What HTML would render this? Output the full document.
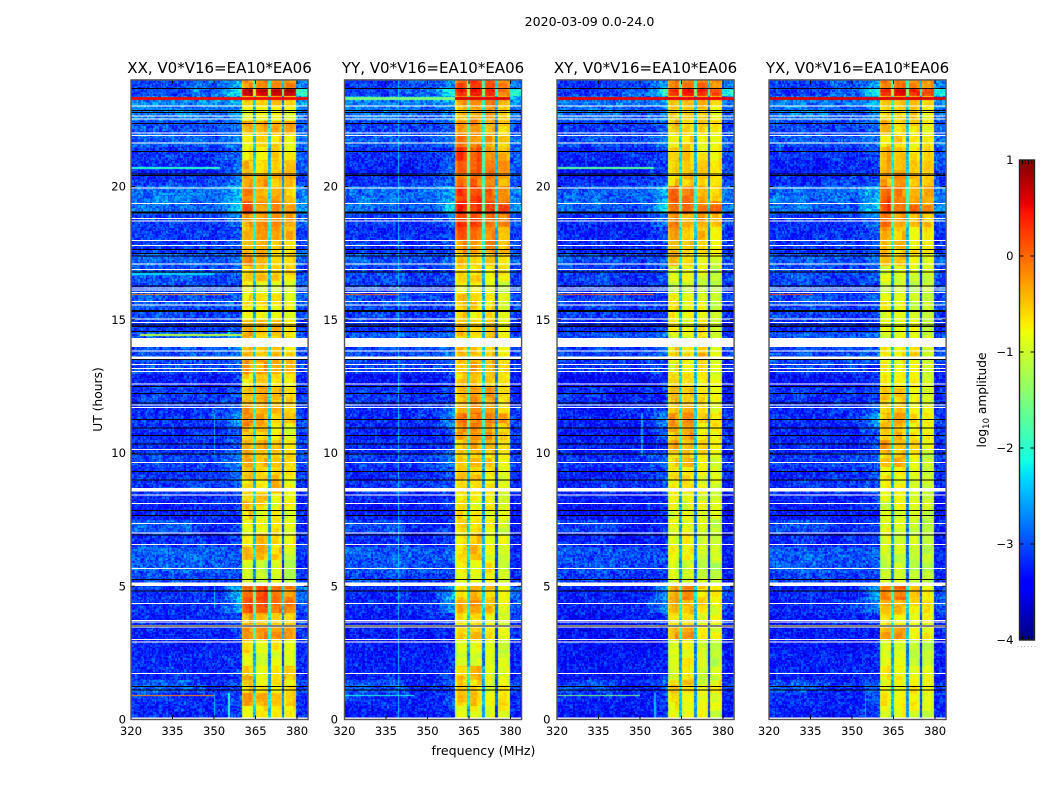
<!DOCTYPE html>
<html>
<head>
<meta charset="utf-8">
<title>2020-03-09 0.0-24.0</title>
<style>
html,body{margin:0;padding:0;background:#fff;}
#stage{position:relative;width:1050px;height:800px;overflow:hidden;background:#fff;}
canvas{position:absolute;display:block;}
svg{position:absolute;left:0;top:0;}
text{font-family:"DejaVu Sans","Liberation Sans",sans-serif;fill:#000;}
</style>
</head>
<body>
<div id="stage">
<svg id="fig" width="1050" height="800" viewBox="0 0 1050 800">
  <text x="589.5" y="26" font-size="12.6" text-anchor="middle">2020-03-09 0.0-24.0</text>
  <text x="483.5" y="755" font-size="12.6" text-anchor="middle">frequency (MHz)</text>
  <text transform="translate(102,399.5) rotate(-90)" font-size="12.3" text-anchor="middle">UT (hours)</text>
  <text transform="translate(986,400) rotate(-90)" font-size="12.2" text-anchor="middle">log<tspan dy="3" font-size="8.5">10</tspan><tspan dy="-3"> amplitude</tspan></text>
</svg>
</div>
<script>
// ---------- chart data ----------
var panelNames = ['XX', 'YY', 'XY', 'YX'];
var baselineLabel = 'V0*V16=EA10*EA06';
var freqTicks = [320, 335, 350, 365, 380];
var hourTicks = [0, 5, 10, 15, 20];
var colorbarTicks = [1, 0, -1, -2, -3, -4];
var colorbarLabels = ['1', '0', '\u22121', '\u22122', '\u22123', '\u22124'];

// time-bin edges in UT hours, top of the plot first
var hourEdges = [24,23.68,23.4,23,22.5,22,21.5,21,20.5,20,19.5,19,18.5,18,17.5,17,16.5,16,15.5,15,14.5,14,13.5,13,12.5,12,11.5,11,10.5,10,9.5,9,8.5,8,7.5,7,6.5,6,5.5,5,4.5,4,3.5,3,2.5,2,1.5,1,.5,0];

// log10 amplitude in the four 5 MHz sub-bands (360-365, 365-370, 370-375, 375-380)
var bandXX = [[-.25,-.2,-.2,-.25],[.8,.7,.7,.7],[-.55,-.6,-.5,-.7],[-.75,-.8,-.75,-.9],[-.3,-.3,-.3,-.3],[-.8,-.55,-.6,-.7],[-.75,-.7,-.65,-.7],[-.45,-.5,-.6,-.55],[-.3,-.25,-.4,-.45],[-.2,-.35,-.4,-.45],[.05,-.25,-.3,-.4],[-.35,-.3,-.2,-.35],[-.45,-.35,-.3,-.45],[-.4,-.5,-.5,-.75],[-.25,-.45,-.55,-.6],[-.55,-.5,-.55,-.7],[-.75,-.8,-.9,-.95],[-.6,-.7,-.6,-.9],[-.8,-.85,-.8,-.9],[-.4,-.45,-.35,-.75],[-.35,-.55,-.5,-.8],[-.5,-.5,-.35,-.65],[-.35,-.3,-.3,-.5],[-.7,-.6,-.55,-.7],[-.4,-.35,-.4,-.65],[-.3,-.4,-.5,-.65],[-.15,-.35,-.6,-.55],[-.5,-.5,-.7,-.85],[-.3,-.35,-.45,-.7],[-.35,-.4,-.55,-.6],[-.45,-.6,-.55,-.75],[-.7,-.8,-.5,-.9],[-.55,-.55,-.8,-.8],[-.6,-.8,-.7,-.95],[-.8,-.85,-.75,-.95],[-.85,-.45,-.7,-.8],[-.5,-.5,-.5,-1],[-.95,-1.1,-.9,-1.15],[-1,-1.1,-.95,-1.2],[.05,.2,-.05,-.2],[.05,.1,-.1,-.15],[-.35,-.35,-.5,-.5],[-.2,-.1,-.3,-.3],[-.55,-.8,-.8,-.9],[-.85,-1,-.95,-.95],[-.45,-.75,-.75,-.45],[-.6,-.75,-.7,-.7],[-.35,-.4,-.35,-.55],[-.85,-.65,-.55,-.8]];
var bandYY = [[.1,.2,.05,-.2],[.35,.45,.3,-.1],[-.25,-.2,-.15,-.45],[-.45,-.3,-.3,-.6],[-.2,-.25,-.35,-.5],[-.1,-.2,-.3,-.5],[.25,.05,-.2,-.35],[.2,.1,-.15,-.3],[-.05,-.05,-.2,-.35],[.2,.2,0,-.05],[.35,.2,.15,.05],[.2,.1,-.05,-.1],[.05,-.1,-.2,-.45],[-.25,-.35,-.2,-.5],[-.55,-.55,-.45,-.75],[-.65,-.6,-.75,-.75],[-.7,-.7,-.85,-1],[-.45,-.6,-.7,-.8],[-.55,-.65,-.65,-.85],[-.5,-.55,-.5,-.8],[-.5,-.6,-.55,-.8],[-.5,-.5,-.45,-.7],[-.4,-.4,-.4,-.65],[-.55,-.5,-.45,-.7],[-.4,-.3,-.3,-.6],[-.35,-.3,-.4,-.65],[-.1,-.05,-.2,-.4],[-.2,-.2,-.3,-.55],[-.4,-.4,-.45,-.7],[-.5,-.5,-.6,-.8],[-.5,-.55,-.7,-.9],[-.7,-.75,-.75,-.9],[-.7,-.8,-.85,-1],[-.65,-.7,-.8,-.95],[-.6,-.7,-.8,-1],[-.7,-.5,-.8,-.95],[-.7,-.4,-.85,-1],[-.75,-.75,-.7,-1],[-.85,-.9,-.85,-1.05],[-.6,-.45,-.55,-.85],[-.45,-.3,-.5,-.8],[-.7,-.5,-.75,-.95],[-.45,-.5,-.75,-.85],[-.8,-.85,-.9,-1],[-.9,-1,-1,-.85],[-.5,-.4,-.85,-.8],[-.6,-.6,-.95,-.8],[-.55,-.5,-.7,-.75],[-.85,-.8,-.85,-.85]];
var bandXY = [[-.15,-.1,-.1,-.25],[.35,.45,.3,.15],[-.5,-.5,-.5,-.6],[-.55,-.55,-.55,-.75],[-.45,-.55,-.55,-.65],[-.7,-.6,-.7,-.8],[-.5,-.6,-.7,-.75],[-.45,-.6,-.6,-.75],[-.55,-.45,-.6,-.7],[.1,-.15,-.3,-.45],[0,-.15,-.2,-.15],[-.2,-.4,-.35,-.5],[-.35,-.55,-.5,-.8],[-.55,-.5,-.7,-.9],[-.45,-.55,-.85,-.95],[-.95,-.85,-1,-1.05],[-1,-1,-1.1,-1.15],[-.75,-.8,-.95,-1.05],[-.75,-.8,-.85,-1],[-.7,-.8,-.7,-1],[-.85,-.85,-.8,-1],[-.55,-.55,-.45,-.8],[-.75,-.7,-.7,-.95],[-.65,-.55,-.7,-.85],[-.45,-.5,-.7,-.8],[-.55,-.5,-.7,-.9],[-.25,-.2,-.6,-.65],[-.4,-.3,-.65,-.75],[-.35,-.45,-.6,-.85],[-.55,-.5,-.75,-.95],[-.65,-.7,-.9,-1],[-.8,-.8,-.95,-1],[-.85,-.85,-.95,-1],[-.85,-.85,-.95,-1],[-.9,-.95,-1,-1.05],[-.95,-.8,-1,-1.05],[-.85,-.7,-1,-1.05],[-.95,-1,-1.05,-1.15],[-.95,-1,-1.05,-1.15],[-.35,-.15,-.65,-.85],[-.4,-.5,-.6,-.85],[-.55,-.6,-.8,-.85],[-.3,-.35,-.75,-.85],[-.85,-.9,-1,-1.05],[-.9,-.8,-.95,-1.05],[-.85,-.8,-.95,-.95],[-.55,-.55,-.9,-.75],[-.7,-.7,-.85,-.9],[-.8,-.7,-.85,-.95]];
var bandYX = [[-.2,-.1,-.2,-.25],[.35,.55,.35,.2],[-.5,-.55,-.45,-.6],[-.55,-.6,-.55,-.7],[-.4,-.55,-.55,-.7],[-.65,-.6,-.7,-.75],[-.4,-.45,-.6,-.7],[-.35,-.5,-.6,-.65],[-.35,-.25,-.45,-.6],[.05,-.15,-.2,-.3],[.15,-.1,-.15,-.3],[-.1,-.35,-.4,-.5],[-.4,-.5,-.75,-.75],[-.5,-.5,-.75,-.8],[-.4,-.45,-.85,-.95],[-.9,-.9,-1,-1.05],[-1,-1,-1.05,-1.1],[-.8,-.85,-.95,-1],[-.8,-.9,-.9,-1],[-.75,-.85,-.8,-1],[-.9,-.9,-.85,-1],[-.7,-.6,-.5,-.95],[-.8,-.75,-.8,-1],[-.7,-.65,-.75,-.95],[-.5,-.55,-.75,-.85],[-.65,-.6,-.75,-.95],[-.4,-.35,-.7,-.75],[-.5,-.5,-.7,-.85],[-.3,-.5,-.65,-.85],[-.55,-.45,-.8,-1],[-.75,-.75,-.9,-1],[-.85,-.85,-.95,-1],[-.9,-.85,-.95,-1],[-.9,-.9,-1,-1.05],[-.9,-.95,-1,-1.05],[-.9,-.95,-1.05,-1.1],[-.95,-1,-1.05,-1.1],[-1,-1.05,-1.1,-1.15],[-1,-1.05,-1.1,-1.15],[-.2,-.05,-.55,-.85],[-.45,-.5,-.6,-.7],[-.55,-.65,-.85,-.85],[-.35,-.35,-.75,-.8],[-.9,-.95,-1,-1.05],[-.9,-.95,-1,-1.05],[-.7,-.75,-.75,-.95],[-.85,-.8,-.75,-.95],[-.65,-.7,-.85,-.95],[-.85,-.75,-.9,-.95]];

// off-band background: 320-342, 342-352, band edge near 360, 380-384 MHz
var backgroundLevels = [[-2.95,-2.8,-2.4,-2.6],[-2.95,-2.7,-1.8,-1.9],[-2.6,-2.6,-2.3,-2.5],[-2.65,-2.75,-2.5,-2.7],[-2.9,-2.9,-2.7,-2.8],[-2.8,-2.85,-2.6,-2.7],[-3,-3,-2.8,-2.8],[-3.1,-3.1,-2.8,-2.9],[-3,-3,-2.7,-2.9],[-2.7,-2.7,-2.3,-2.6],[-2.7,-2.75,-2.1,-2.6],[-2.95,-2.95,-2.6,-2.8],[-3,-3,-2.9,-3],[-3,-3,-2.8,-3],[-2.8,-2.85,-2.75,-2.8],[-2.85,-2.95,-2.85,-2.9],[-2.9,-2.95,-2.9,-2.9],[-2.85,-2.9,-2.8,-2.8],[-2.9,-3,-2.9,-2.9],[-3,-3.05,-2.9,-3],[-2.8,-2.8,-2.6,-2.9],[-2.9,-2.85,-2.7,-2.9],[-2.9,-2.95,-2.9,-3],[-3.2,-3.2,-3,-3.1],[-3,-3.05,-2.9,-3.1],[-3.05,-3,-2.8,-3],[-3.05,-3,-2.45,-2.9],[-3.1,-3.1,-2.7,-3],[-3.05,-3.05,-2.8,-3],[-2.95,-2.95,-2.65,-2.9],[-3.05,-3.05,-2.8,-3],[-3,-3,-2.85,-3.1],[-3.1,-3.1,-3,-3.2],[-3.15,-3.15,-3.05,-3.2],[-2.85,-3.05,-2.95,-3.1],[-3.05,-3.1,-3,-3.15],[-2.8,-2.8,-2.85,-3.05],[-2.8,-2.85,-2.9,-3.05],[-2.9,-3,-2.95,-3.1],[-3.05,-3.05,-2.3,-2.8],[-3.05,-3,-2.5,-2.85],[-3.1,-3.1,-2.95,-3],[-3.15,-3.15,-3,-3.05],[-3.15,-3.15,-3.05,-3.1],[-3.1,-3.1,-3,-3.05],[-3.1,-3.1,-3,-3.1],[-2.85,-3,-2.8,-3],[-3.05,-3.1,-2.85,-3.1],[-3.1,-3.1,-2.95,-3.05]];
var backgroundOffset = [-0.1, -0.15, -0.2, -0.15];

// depth (log10) of the notches at 365, 370 and 375 MHz
var notchDepth = [1.7, 1.85, 2.2];
// roll-off across one sub-band, low edge to high edge
var subbandShape = [-.3, -.06, 0, 0, 0, .02, 0, 0, -.06, -.3];
// hand-typed small-scale speckle, in tenths of a dex
var speckle = [2,-3,1,4,-2,0,-4,3,-1,2,5,-3,0,1,-5,2,-2,4,-1,-3,3,0,-4,1,2,-2,5,-1,0,-3,4,-2,1,-5,3,0,2,-4,-1,3,1,-2,4,-3,0,2,-1,-4,5,1,-2,3,-3,0,-1,4,-5,2,1,-2,3,-1,0,-4,2,5,-3,1,-2,0,4,-1,3,-5,2,-3,1,0,-2,4,-4,3,-1,2,0,-3,5,-2,1,-4,3,-1,0,2,-3,4,-2,1,-5,2,0];

// UT hour and duration of flagged integrations
var whiteFlags = [[23.03,.0375],[22.64,.0375],[22.54,.0375],[22,.0375],[21.91,.0375],[21.64,.0375],[19.95,.0375],[19.37,.0375],[18.79,.0375],[18.7,.0375],[17.97,.0375],[17.78,.0375],[17.1,.0375],[16.88,.0375],[16.19,.0375],[16.12,.0375],[16.03,.0375],[15.68,.0375],[15.56,.0375],[15.02,.0375],[14.9,.0375],[14.15,.33],[13.83,.0375],[13.58,.1],[13.33,.0375],[13.18,.0375],[13.05,.0375],[12.58,.0375],[11.8,.0375],[11.71,.0375],[10.14,.0375],[9.64,.0375],[8.62,.13],[8.42,.0375],[8.11,.0375],[7.35,.0375],[6.99,.0375],[6.57,.0375],[5.67,.0375],[5.08,.13],[4.82,.0375],[4.36,.0375],[3.72,.0375],[3.66,.0375],[3.53,.0375],[3.48,.0375],[3.01,.0375],[2.9,.0375],[1.73,.0375],[.04,.08]];
var blackFlags = [[23.67,.0375],[22.85,.0375],[22.77,.0375],[22.37,.0375],[21.32,.0375],[20.47,.0375],[20.41,.0375],[19.05,.0375],[19,.0375],[17.63,.0375],[17.49,.0375],[17.39,.0375],[16.8,.0375],[16.27,.0375],[15.33,.08],[14.81,.0375],[14.74,.0375],[14.55,.0375],[13.5,.0375],[12.49,.0375],[12.24,.0375],[11.87,.0375],[11.26,.0375],[10.93,.0375],[10.65,.0375],[10.33,.0375],[9.96,.0375],[9.31,.0375],[8.99,.0375],[7.84,.0375],[7.65,.0375],[6.92,.0375],[5.26,.0375],[4.83,.0375],[3.5,.0375],[1.23,.0375],[1.11,.0375]];

// bright narrow-band rows: panel, hour, height, start MHz, stop MHz, log10 amplitude
var brightRows = [
  [0,23.28,.13,320,384,.5],[0,20.68,.05,320,352,-2],[0,16.7,.05,320,350,-2.3],[0,15.93,.06,320,355,-.1],[0,14.43,.05,323,360,-1.1],[0,.91,.05,320,350,-.2],
  [1,23.28,.13,360,380,.6],[1,23.28,.13,320,360,-1.5],[1,15.93,.05,320,340,.1],[1,.91,.05,320,345,-2.1],
  [2,23.28,.13,320,384,.55],[2,20.68,.05,320,355,-1.7],[2,15.93,.06,320,355,.1],[2,.91,.05,320,350,-1.5],
  [3,23.28,.13,320,384,.6],[3,15.93,.05,320,336,.2]
];
// faint vertical lines: panel, MHz, start hour, stop hour, log10 amplitude
var brightChannels = [
  [0,355.5,0,1,-2],[0,350,0,1,-2.5],[0,350,4.2,5,-2.4],[0,350,9.9,11.5,-2.5],[0,355.5,13.9,14.6,-2.3],
  [1,339.5,0,24,-2.45],[2,350.5,9.9,11.5,-2.5],[2,355.5,0,1,-2.5],[3,355,0,1,-2.6]
];

// ---------- axis functions ----------
var panelLeft = [131, 344.5, 557, 769];
var tickLabelGap = [5, 6.5, 6.5, null];
var pxPerMHz = 2.767;
var pxPerHour = 26.65;
var plotBottom = 719.5;
var plotTop = plotBottom - 24 * pxPerHour;
var plotWidth = 64 * pxPerMHz;
function xScale(panel, mhz) { return panelLeft[panel] + (mhz - 320) * pxPerMHz; }
function yScale(hour) { return plotBottom - hour * pxPerHour; }
function colorbarY(value) { return 640 - (value + 4) * 96; }

function interp(xs, ys, t) {
  for (var i = 1; i < xs.length; i++) {
    if (t <= xs[i]) return ys[i - 1] + (ys[i] - ys[i - 1]) * (t - xs[i - 1]) / (xs[i] - xs[i - 1]);
  }
  return ys[ys.length - 1];
}
function jet(value) {
  var t = Math.max(0, Math.min(1, (value + 4) / 5));
  var r = interp([0, .35, .66, .89, 1], [0, 0, 1, 1, .5], t);
  var g = interp([0, .125, .375, .64, .91, 1], [0, 0, 1, 1, 0, 0], t);
  var b = interp([0, .11, .34, .65, 1], [.5, 1, 1, 0, 0], t);
  return 'rgb(' + Math.round(r * 255) + ',' + Math.round(g * 255) + ',' + Math.round(b * 255) + ')';
}

// ---------- heatmap ----------
var bandsByPanel = [bandXX, bandYY, bandXY, bandYX];
function rowIndex(hour) {
  for (var i = 0; i < hourEdges.length - 1; i++) {
    if (hour >= hourEdges[i + 1]) return i;
  }
  return hourEdges.length - 2;
}
function grainAt(col, row) {
  return speckle[(col * col * 3 + row * row * 7 + col * row * 5 + col * 11 + row * 17) % speckle.length];
}
function cellValue(panel, mhz, hour, col, row) {
  var i, s;
  for (i = 0; i < brightRows.length; i++) {
    s = brightRows[i];
    if (s[0] === panel && Math.abs(hour - s[1]) <= s[2] / 2 && mhz >= s[3] && mhz < s[4]) return s[5];
  }
  var r = rowIndex(hour);
  var grain = grainAt(col + panel * 7, row + panel * 3);
  var patch = grainAt(Math.floor(col / 5) + panel, Math.floor(row / 6));
  var base;
  if (mhz >= 360 && mhz < 380) {
    var sub = Math.floor((mhz - 360) / 5);
    var off = mhz - 360 - sub * 5;
    var band = bandsByPanel[panel][r];
    if (sub > 0 && off < .55) return (band[sub] + band[sub - 1]) / 2 - notchDepth[sub - 1] + grain * .05;
    if (sub < 3 && off > 4.45) return (band[sub] + band[sub + 1]) / 2 - notchDepth[sub] + grain * .05;
    base = band[sub] + subbandShape[Math.floor(off * 2)];
    return base + grain * .02 + patch * .035;
  }
  for (i = 0; i < brightChannels.length; i++) {
    s = brightChannels[i];
    if (s[0] === panel && Math.abs(mhz - s[1]) < .3 && hour >= s[2] && hour < s[3]) return s[4] + grain * .03;
  }
  var bg = backgroundLevels[r];
  if (mhz >= 380) base = bg[3];
  else if (mhz < 342) base = bg[0];
  else if (mhz < 352) base = bg[1];
  else base = bg[1] + (bg[2] - bg[1]) * (mhz - 352) / 8;
  return base + backgroundOffset[panel] + grain * .08 + patch * .02;
}

var stage = document.getElementById('stage');
var fig = document.getElementById('fig');
var colCount = 120, rowCount = 440;
panelNames.forEach(function (name, panel) {
  var canvas = document.createElement('canvas');
  
  
  var left = Math.round(panelLeft[panel]), top = Math.round(plotTop);
  var w = Math.round(plotWidth), h = Math.round(plotBottom - plotTop);
  canvas.width = w;
  canvas.height = h;
  canvas.style.left = left + 'px';
  canvas.style.top = top + 'px';
  stage.insertBefore(canvas, fig);
  var ctx = canvas.getContext('2d');
  var df = 64 / colCount, dh = 24 / rowCount;
  for (var c = 0; c < colCount; c++) {
    var f = 320 + c * df;
    var x0 = Math.round(xScale(panel, f)) - left;
    var x1 = Math.round(xScale(panel, f + df)) - left;
    for (var q = 0; q < rowCount; q++) {
      var hr = q * dh;
      var y1 = Math.round(yScale(hr)) - top;
      var y0 = Math.round(yScale(hr + dh)) - top;
      ctx.fillStyle = jet(cellValue(panel, f + df / 2, hr + dh / 2, c, q));
      ctx.fillRect(x0, y0, x1 - x0, y1 - y0);
    }
  }
});

// ---------- svg overlay ----------
var NS = 'http://www.w3.org/2000/svg';
function svgEl(tag, parent, geom) {
  var el = document.createElementNS(NS, tag);
  for (var k in geom) el.setAttribute(k, geom[k]);
  parent.appendChild(el);
  return el;
}
function addTick(group, x1, y1, x2, y2, color) {
  var t = svgEl('line', group, {x1: x1, y1: y1, x2: x2, y2: y2, stroke: color || '#000', 'stroke-width': 1});
  
  
}

panelNames.forEach(function (name, panel) {
  var lower = name.toLowerCase();
  var g = svgEl('g', fig, {});
  
  
  var left = panelLeft[panel], right = left + plotWidth;

  whiteFlags.forEach(function (fl) {
    var r = svgEl('rect', g, {x: left, width: plotWidth, y: yScale(fl[0] + fl[1] / 2), height: fl[1] * pxPerHour, fill: '#fff', 'shape-rendering': 'crispEdges'});
    
    
  });
  blackFlags.forEach(function (fl) {
    var r = svgEl('rect', g, {x: left, width: plotWidth, y: yScale(fl[0] + fl[1] / 2), height: fl[1] * pxPerHour, fill: '#000', 'shape-rendering': 'crispEdges'});
    
    
  });

  var title = svgEl('text', g, {x: left + plotWidth / 2, y: 73, 'font-size': 15, 'text-anchor': 'middle'});
  
  
  title.textContent = name + ', ' + baselineLabel;

  freqTicks.forEach(function (v) {
    var x = xScale(panel, v);
    addTick(g, x, plotBottom, x, plotBottom - 4);
    addTick(g, x, plotTop, x, plotTop + 4);
    var t = svgEl('text', g, {x: x, y: 735, 'font-size': 11.6, 'text-anchor': 'middle'});
    
    
    t.textContent = v;
  });
  hourTicks.forEach(function (v) {
    var y = yScale(v);
    addTick(g, left, y, left + 4, y);
    addTick(g, right, y, right - 4, y);
    if (tickLabelGap[panel] !== null) {
      var t = svgEl('text', g, {x: left - tickLabelGap[panel], y: y + 4, 'font-size': 11.6, 'text-anchor': 'end'});
      
      
      t.textContent = v;
    }
  });

  var frame = svgEl('rect', g, {x: left, y: plotTop, width: plotWidth, height: plotBottom - plotTop, fill: 'none', stroke: '#555', 'stroke-width': 1.4});
  
  
});

// colorbar
var cb = svgEl('g', fig, {});


var cbLeft = 1019.5, cbWidth = 15;
for (var py = 160; py < 640; py += 2) {
  var level = 1 - (py + 1 - 160) / 96;
  var swatch = svgEl('rect', cb, {x: cbLeft, y: py, width: cbWidth, height: 2, fill: jet(level), 'shape-rendering': 'crispEdges'});
  
  
}
colorbarTicks.forEach(function (v, i) {
  var y = colorbarY(v);
  if (v < 1 && v > -4) {
    addTick(cb, cbLeft, y, cbLeft + 4, y);
    addTick(cb, cbLeft + cbWidth, y, cbLeft + cbWidth - 4, y);
  }
  var t = svgEl('text', cb, {x: 1013.5, y: y + 4, 'font-size': 11.6, 'text-anchor': 'end'});
  
  
  t.textContent = colorbarLabels[i];
});
[3, 6, 9, 12].forEach(function (dx) {
  addTick(cb, cbLeft + dx, 160, cbLeft + dx, 164);
  addTick(cb, cbLeft + dx, 640, cbLeft + dx, 636);
});
var cbFrame = svgEl('rect', cb, {x: cbLeft, y: 160, width: cbWidth, height: 480, fill: 'none', stroke: '#222', 'stroke-width': 1.4});


[1018, 1021.4, 1024.8, 1028.2, 1031.6, 1035].forEach(function (dotX) {
  var dot = svgEl('rect', cb, {x: dotX - .5, y: 646, width: 1, height: 1, fill: '#aaa'});
  
  
});
</script>
</body>
</html>
